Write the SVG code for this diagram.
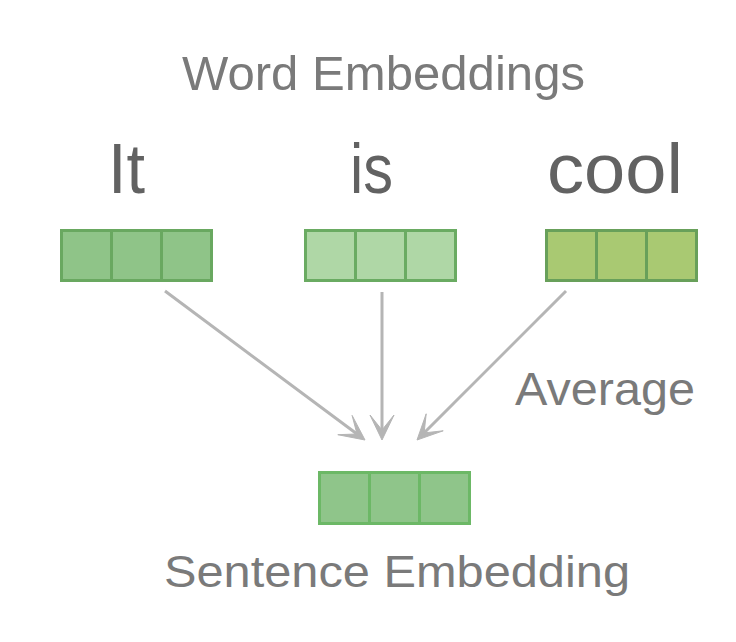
<svg xmlns="http://www.w3.org/2000/svg" width="736" height="642" viewBox="0 0 736 642">
<style>
.lbl{font-family:"Liberation Sans",Arial,sans-serif;fill:#7a7a7a;}
.word{font-family:"Liberation Sans",Arial,sans-serif;fill:#626262;font-size:70px;}
.c1{fill:#8fc488;stroke:#69a860;stroke-width:3;}
.c2{fill:#afd7a6;stroke:#6aab62;stroke-width:3;}
.c3{fill:#a9c972;stroke:#68a05a;stroke-width:3;}
.c4{fill:#8fc58a;stroke:#6cb866;stroke-width:3;}
.arr{stroke:#b5b5b5;stroke-width:3;fill:none;}
.head{fill:#b5b5b5;stroke:#b5b5b5;stroke-width:1;stroke-linejoin:round;}
</style>
<rect width="736" height="642" fill="#ffffff"/>
<text class="lbl" x="182" y="90" font-size="48" textLength="403" lengthAdjust="spacingAndGlyphs">Word Embeddings</text>
<g id="node-it">
<text class="word" x="108" y="193" textLength="37" lengthAdjust="spacingAndGlyphs">It</text>
<rect class="c1" x="61.5" y="230.5" width="50" height="50"/>
<rect class="c1" x="111.5" y="230.5" width="50" height="50"/>
<rect class="c1" x="161.5" y="230.5" width="50" height="50"/>
</g>
<g id="node-is">
<text class="word" x="350" y="193" textLength="43" lengthAdjust="spacingAndGlyphs">is</text>
<rect class="c2" x="305.5" y="230.5" width="50" height="50"/>
<rect class="c2" x="355.5" y="230.5" width="50" height="50"/>
<rect class="c2" x="405.5" y="230.5" width="50" height="50"/>
</g>
<g id="node-cool">
<text class="word" x="547" y="193" textLength="136" lengthAdjust="spacingAndGlyphs">cool</text>
<rect class="c3" x="546.5" y="230.5" width="50" height="50"/>
<rect class="c3" x="596.5" y="230.5" width="50" height="50"/>
<rect class="c3" x="646.5" y="230.5" width="50" height="50"/>
</g>
<g id="connectors">
<line class="arr" x1="165" y1="291" x2="357" y2="434"/>
<path class="head" d="M365,440 L337.8,434.7 L357,434 L352.1,415.4 Z"/>
<line class="arr" x1="382" y1="292" x2="382" y2="430"/>
<path class="head" d="M382,440 L370,415 L382,430 L394,415 Z"/>
<line class="arr" x1="566" y1="291" x2="424" y2="433"/>
<path class="head" d="M417,440 L443.2,430.8 L424.1,432.9 L426.2,413.8 Z"/>
<text class="lbl" x="515" y="405" font-size="47" textLength="180" lengthAdjust="spacingAndGlyphs">Average</text>
</g>
<g id="node-sentence">
<rect class="c4" x="319.5" y="472.5" width="50" height="51"/>
<rect class="c4" x="369.5" y="472.5" width="50" height="51"/>
<rect class="c4" x="419.5" y="472.5" width="50" height="51"/>
<text class="lbl" x="164" y="587" font-size="45" textLength="466" lengthAdjust="spacingAndGlyphs">Sentence Embedding</text>
</g>
</svg>
